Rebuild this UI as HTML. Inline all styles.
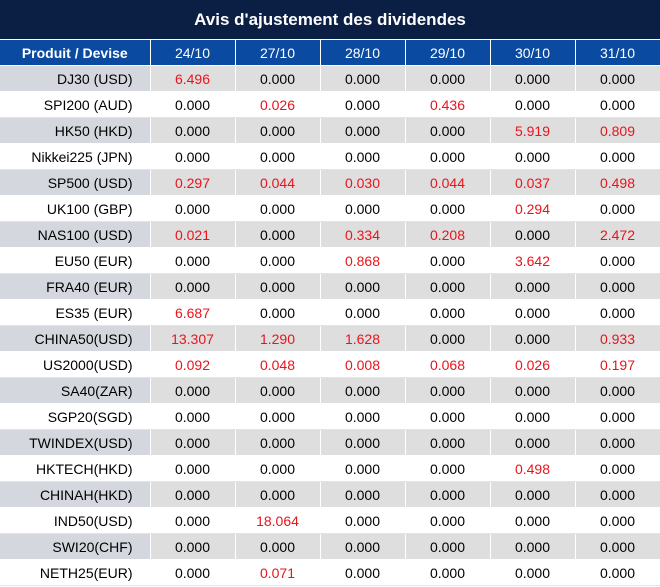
<!DOCTYPE html>
<html><head><meta charset="utf-8"><style>
body{margin:0;width:660px;height:587px;overflow:hidden;background:#fff;font-family:"Liberation Sans",sans-serif;}
.t{position:absolute;left:0;top:0;width:660px;height:39px;background:#0b1f45;color:#fff;font-weight:bold;font-size:17px;text-align:center;line-height:39px;}
table{position:absolute;left:0;top:40px;border-collapse:collapse;table-layout:fixed;width:660px;}
td,th{height:25px;padding:0;font-size:14px;text-align:center;border:1px solid #fff;border-top:0;border-left:0;}
th{background:#0a4aa0;color:#fff;font-weight:normal;height:25px;}
th:first-child{font-weight:bold;}
td:first-child{text-align:right;padding-right:17px;}
tr.g td{background:#dedede;}
tr.g td:first-child{background:#d4d7dd;}
tr td{border-bottom:1px solid #e4e4e4;}
tr.g td{border-bottom:1px solid #fff;}
.r{color:#e8141c;}
</style></head><body>
<div class="t">Avis d'ajustement des dividendes</div>
<table>
<colgroup><col style="width:150px"><col style="width:85px"><col style="width:85px"><col style="width:85px"><col style="width:85px"><col style="width:85px"><col style="width:85px"></colgroup>
<tr><th>Produit / Devise</th><th>24/10</th><th>27/10</th><th>28/10</th><th>29/10</th><th>30/10</th><th>31/10</th></tr>
<tr class="g"><td>DJ30 (USD)</td><td class="r">6.496</td><td>0.000</td><td>0.000</td><td>0.000</td><td>0.000</td><td>0.000</td></tr>
<tr><td>SPI200 (AUD)</td><td>0.000</td><td class="r">0.026</td><td>0.000</td><td class="r">0.436</td><td>0.000</td><td>0.000</td></tr>
<tr class="g"><td>HK50 (HKD)</td><td>0.000</td><td>0.000</td><td>0.000</td><td>0.000</td><td class="r">5.919</td><td class="r">0.809</td></tr>
<tr><td>Nikkei225 (JPN)</td><td>0.000</td><td>0.000</td><td>0.000</td><td>0.000</td><td>0.000</td><td>0.000</td></tr>
<tr class="g"><td>SP500 (USD)</td><td class="r">0.297</td><td class="r">0.044</td><td class="r">0.030</td><td class="r">0.044</td><td class="r">0.037</td><td class="r">0.498</td></tr>
<tr><td>UK100 (GBP)</td><td>0.000</td><td>0.000</td><td>0.000</td><td>0.000</td><td class="r">0.294</td><td>0.000</td></tr>
<tr class="g"><td>NAS100 (USD)</td><td class="r">0.021</td><td>0.000</td><td class="r">0.334</td><td class="r">0.208</td><td>0.000</td><td class="r">2.472</td></tr>
<tr><td>EU50 (EUR)</td><td>0.000</td><td>0.000</td><td class="r">0.868</td><td>0.000</td><td class="r">3.642</td><td>0.000</td></tr>
<tr class="g"><td>FRA40 (EUR)</td><td>0.000</td><td>0.000</td><td>0.000</td><td>0.000</td><td>0.000</td><td>0.000</td></tr>
<tr><td>ES35 (EUR)</td><td class="r">6.687</td><td>0.000</td><td>0.000</td><td>0.000</td><td>0.000</td><td>0.000</td></tr>
<tr class="g"><td>CHINA50(USD)</td><td class="r">13.307</td><td class="r">1.290</td><td class="r">1.628</td><td>0.000</td><td>0.000</td><td class="r">0.933</td></tr>
<tr><td>US2000(USD)</td><td class="r">0.092</td><td class="r">0.048</td><td class="r">0.008</td><td class="r">0.068</td><td class="r">0.026</td><td class="r">0.197</td></tr>
<tr class="g"><td>SA40(ZAR)</td><td>0.000</td><td>0.000</td><td>0.000</td><td>0.000</td><td>0.000</td><td>0.000</td></tr>
<tr><td>SGP20(SGD)</td><td>0.000</td><td>0.000</td><td>0.000</td><td>0.000</td><td>0.000</td><td>0.000</td></tr>
<tr class="g"><td>TWINDEX(USD)</td><td>0.000</td><td>0.000</td><td>0.000</td><td>0.000</td><td>0.000</td><td>0.000</td></tr>
<tr><td>HKTECH(HKD)</td><td>0.000</td><td>0.000</td><td>0.000</td><td>0.000</td><td class="r">0.498</td><td>0.000</td></tr>
<tr class="g"><td>CHINAH(HKD)</td><td>0.000</td><td>0.000</td><td>0.000</td><td>0.000</td><td>0.000</td><td>0.000</td></tr>
<tr><td>IND50(USD)</td><td>0.000</td><td class="r">18.064</td><td>0.000</td><td>0.000</td><td>0.000</td><td>0.000</td></tr>
<tr class="g"><td>SWI20(CHF)</td><td>0.000</td><td>0.000</td><td>0.000</td><td>0.000</td><td>0.000</td><td>0.000</td></tr>
<tr><td>NETH25(EUR)</td><td>0.000</td><td class="r">0.071</td><td>0.000</td><td>0.000</td><td>0.000</td><td>0.000</td></tr>
</table>
</body></html>
